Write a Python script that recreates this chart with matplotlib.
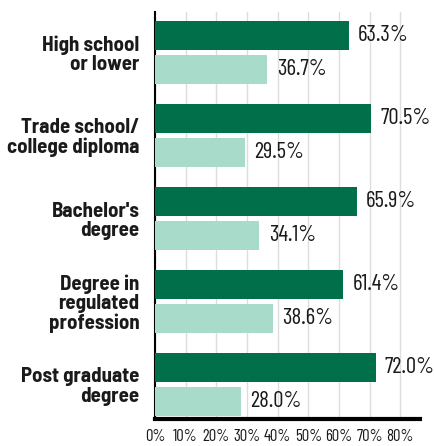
import matplotlib.pyplot as plt
from matplotlib import font_manager
import numpy as np

categories = ["High school\nor lower", "Trade school/\ncollege diploma", "Bachelor's\ndegree",
              "Degree in\nregulated\nprofession", "Post graduate\ndegree"]
dark_vals = [63.3, 70.5, 65.9, 61.4, 72.0]
light_vals = [36.7, 29.5, 34.1, 38.6, 28.0]
ticks = [0, 10, 20, 30, 40, 50, 60, 70, 80]

names = {f.name for f in font_manager.fontManager.ttflist}
font = "Barlow Semi Condensed" if "Barlow Semi Condensed" in names else "DejaVu Sans"
numfont = "Barlow Condensed" if "Barlow Condensed" in names else font
plt.rcParams['font.family'] = [font, 'DejaVu Sans']

dark = "#006f4a"
light = "#a8dbc9"

fig = plt.figure(figsize=(4.35, 4.46), dpi=100)
ax = fig.add_axes([0.356, 0.0605, 0.61, 0.9125])

y = np.arange(len(categories))
h = 0.35
off = 0.2
ax.barh(y - off, dark_vals, height=h, color=dark, zorder=3)
ax.barh(y + off, light_vals, height=h, color=light, zorder=3)

for yi, v in zip(y, dark_vals):
    ax.text(v + 3.0, yi - off, f"{v:.1f}%", va="center", ha="left", fontsize=16.5,
            color="#1a1a1a", family=numfont)
for yi, v in zip(y, light_vals):
    ax.text(v + 3.0, yi + off, f"{v:.1f}%", va="center", ha="left", fontsize=16.5,
            color="#1a1a1a", family=numfont)

ax.set_xlim(0, 86.5)
ax.set_ylim(4 + 0.416, -0.488)
ax.set_xticks(ticks)
ax.set_xticklabels([f"{t}%" for t in ticks], fontsize=12, family=numfont, color="#1a1a1a")
ax.set_yticks(y)
ax.set_yticklabels(categories, fontsize=15, fontweight="bold", linespacing=1.02, color="#1a1a1a")
ax.tick_params(axis="y", length=0, pad=11)
ax.tick_params(axis="x", length=0, pad=7)

ax.grid(axis="x", color="#dddddd", linewidth=1, zorder=0)
for s in ["top", "right"]:
    ax.spines[s].set_visible(False)
ax.spines["left"].set_linewidth(1.5)
ax.spines["bottom"].set_linewidth(3)

fig.savefig("out.png", dpi=100)
